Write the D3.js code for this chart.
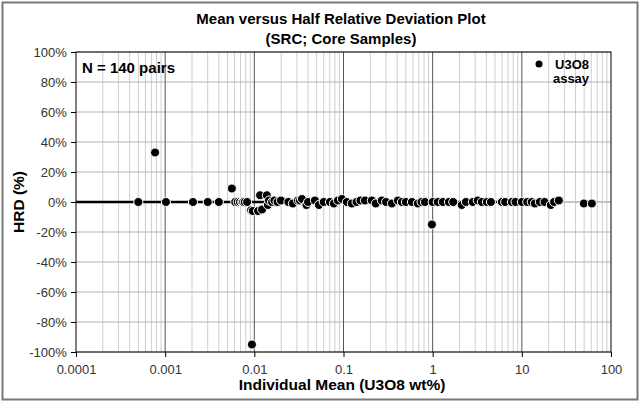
<!DOCTYPE html>
<html>
<head>
<meta charset="utf-8">
<script src="https://cdn.jsdelivr.net/npm/d3@7"></script>
<style>
  body { margin: 0; background: #fff; }
  text { font-family: "Liberation Sans", Arial, sans-serif; }
</style>
</head>
<body>
<div id="chart"></div>
<script>
// individual mean (U3O8 wt%) and half relative deviation (%)
const means = [0.0005, 0.00077, 0.00102, 0.00205, 0.0030, 0.0040, 0.0056, 0.0061, 0.0065, 0.0069,
  0.0073, 0.0075, 0.0078, 0.0083, 0.0094, 0.0092, 0.0096, 0.011, 0.0122, 0.0116,
  0.0138, 0.0142, 0.0146, 0.0158, 0.0168, 0.0182, 0.0199, 0.0241, 0.027, 0.0308,
  0.0325, 0.0342, 0.0384, 0.040, 0.0478, 0.053, 0.060, 0.0704, 0.078, 0.0866,
  0.096, 0.109, 0.124, 0.14, 0.155, 0.174, 0.208, 0.23, 0.269, 0.30,
  0.349, 0.408, 0.452, 0.50, 0.585, 0.682, 0.75, 0.818, 0.98, 1.0,
  1.14, 1.3, 1.52, 1.7, 2.12, 2.36, 2.82, 3.2, 3.56, 4.05,
  4.5, 5.97, 6.5, 7.73, 8.5, 10, 11.5, 12.9, 14, 15.9,
  18, 21.1, 23, 26, 49.6, 61];
const hrd = [0, 33, 0, 0, 0, 0, 9, 0, 0, 0,
  0, 0, 0, 0, -95, -5.5, -6, -6, -5, 4.5,
  4.5, -2, 1, 0, 1, 0, 1, 0, -1, 1,
  1, 2, -2, 0, 1, -2, 0, 0, -1, 1,
  2, 0, -1, 0, 1, 1, 1, -1, 1, 0,
  -1, 1, 0, 0, 0, -1, 0, 0, -15, 0,
  0, 0, 0, 0, -2, 0, 0, 1, 0, 0,
  0, 0, 0, 0, 0, 0, 0, 0, -1, 0,
  0, -2, 0, 1, -1, -1];
const xTicks = [0.0001, 0.001, 0.01, 0.1, 1, 10, 100];
const yTicks = [-100, -80, -60, -40, -20, 0, 20, 40, 60, 80, 100];

const W = 640, H = 402;
const margin = {top: 52, right: 29, bottom: 50, left: 76},
    width = W - margin.left - margin.right,
    height = H - margin.top - margin.bottom;

const svg = d3.select("#chart").append("svg").attr("width", W).attr("height", H);

// outer frame
svg.append("rect").attr("x", 2.5).attr("y", 2.5).attr("width", W - 5).attr("height", H - 5)
  .attr("fill", "#fff").attr("stroke", "#777").attr("stroke-width", 2);

const g = svg.append("g").attr("transform", `translate(${margin.left},${margin.top})`);

const x = d3.scaleLog().domain([0.0001, 100]).range([0, width]);
const y = d3.scaleLinear().domain([-100, 100]).range([height, 0]);

// minor vertical grid
const minor = [];
for (let e = -4; e < 2; e++) for (let k = 2; k <= 9; k++) minor.push(k * Math.pow(10, e));
g.selectAll(".vminor").data(minor).enter().append("line")
  .attr("x1", d => x(d)).attr("x2", d => x(d)).attr("y1", 0).attr("y2", height)
  .attr("stroke", "#cfcfcf").attr("stroke-width", 1);

// horizontal grid
g.selectAll(".hgrid").data(yTicks).enter().append("line")
  .attr("x1", 0).attr("x2", width).attr("y1", d => y(d)).attr("y2", d => y(d))
  .attr("stroke", "#b5b5b5").attr("stroke-width", 1);

// major vertical grid
g.selectAll(".vmajor").data(xTicks.slice(1, -1)).enter().append("line")
  .attr("x1", d => x(d)).attr("x2", d => x(d)).attr("y1", 0).attr("y2", height)
  .attr("stroke", "#555").attr("stroke-width", 1);

// zero line
g.append("line").attr("x1", x(26)).attr("x2", x(100)).attr("y1", y(0)).attr("y2", y(0))
  .attr("stroke", "#bbb").attr("stroke-width", 1.5);
g.append("line").attr("x1", x(0.0001)).attr("x2", x(26)).attr("y1", y(0)).attr("y2", y(0))
  .attr("stroke", "#000").attr("stroke-width", 2.5);

// plot border
g.append("rect").attr("width", width).attr("height", height)
  .attr("fill", "none").attr("stroke", "#000").attr("stroke-width", 1);

// axes
const xAxis = d3.axisBottom(x).tickValues(xTicks).tickFormat(d => String(d)).tickSize(5);
g.append("g").attr("transform", `translate(0,${height})`).call(xAxis)
  .call(a => a.select(".domain").remove())
  .call(a => a.selectAll("text").attr("font-size", 13).attr("fill", "#333").attr("dy", "1.05em"));

const yAxis = d3.axisLeft(y).tickValues(yTicks).tickFormat(d => d + "%").tickSize(5);
g.append("g").call(yAxis)
  .call(a => a.select(".domain").remove())
  .call(a => a.selectAll("text").attr("font-size", 13).attr("fill", "#333").attr("dx", "-0.1em"));

// points
g.selectAll(".pt").data(means).enter().append("circle")
  .attr("cx", d => x(d)).attr("cy", (d, i) => y(hrd[i])).attr("r", 4.5)
  .attr("fill", "#000").attr("stroke", "#fff").attr("stroke-width", 1);

// titles
svg.append("text").attr("x", 341).attr("y", 24).attr("text-anchor", "middle")
  .attr("font-size", 15).attr("font-weight", "bold").text("Mean versus Half Relative Deviation Plot");
svg.append("text").attr("x", 341).attr("y", 44).attr("text-anchor", "middle")
  .attr("font-size", 15).attr("font-weight", "bold").text("(SRC; Core Samples)");

svg.append("text").attr("x", 342).attr("y", 390).attr("text-anchor", "middle")
  .attr("font-size", 15.5).attr("font-weight", "bold").text("Individual Mean (U3O8 wt%)");
svg.append("text").attr("transform", "translate(24,202) rotate(-90)").attr("text-anchor", "middle")
  .attr("font-size", 15.5).attr("font-weight", "bold").text("HRD (%)");

// annotation
svg.append("text").attr("x", 82).attr("y", 73)
  .attr("font-size", 15).attr("font-weight", "bold").text("N = 140 pairs");

// legend
svg.append("circle").attr("cx", 539).attr("cy", 64).attr("r", 3.5).attr("fill", "#000");
svg.append("text").attr("x", 572).attr("y", 69).attr("text-anchor", "middle")
  .attr("font-size", 13).attr("font-weight", "bold").text("U3O8");
svg.append("text").attr("x", 571).attr("y", 83).attr("text-anchor", "middle")
  .attr("font-size", 13).attr("font-weight", "bold").text("assay");
</script>
</body>
</html>
